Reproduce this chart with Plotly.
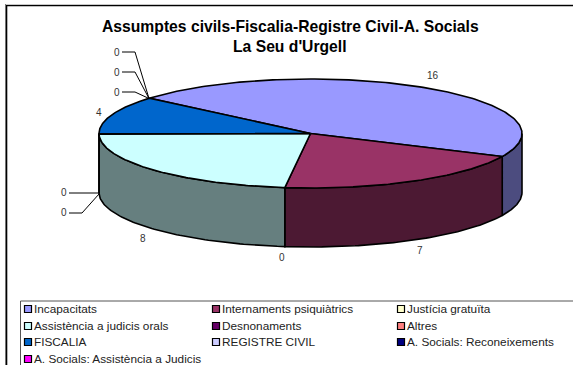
import numpy as np
import plotly.graph_objects as go

# ---- data ----
title_lines = ["Assumptes civils-Fiscalia-Registre Civil-A. Socials", "La Seu d'Urgell"]
categories = ["Incapacitats", "Internaments psiquiàtrics", "Justícia gratuïta",
              "Assistència a judicis orals", "Desnonaments", "Altres",
              "FISCALIA", "REGISTRE CIVIL", "A. Socials: Reconeixements",
              "A. Socials: Assistència a Judicis"]
values = [16, 7, 0, 8, 0, 0, 4, 0, 0, 0]
colors = ["#9999FF", "#993366", "#FFFFCC", "#CCFFFF", "#660066",
          "#FF8080", "#0066CC", "#CCCCFF", "#000080", "#FF00FF"]

# ---- geometry of the tilted pie (pixels of the 573x365 canvas) ----
W, H = 573, 365
CX, CY, RX, RY, DEPTH = 310.5, 133.5, 211.5, 54.5, 59
START_DEG = 220.4   # clockwise on screen, from the 3 o'clock direction

# label anchor and leader layout per category
label_pos = [(433, 75), (420, 250), (282, 257), (143, 238), (64, 192),
             (64, 212), (99, 112), (117, 92), (117, 72), (117, 52)]
leaders = {
    4: [(69, 193), (99, 193)],
    5: [(69, 213), (82, 213), (99, 194)],
    7: [(122, 92), (135, 92), (149, 98.5)],
    8: [(122, 72), (135, 72), (149, 98.5)],
    9: [(122, 52), (135, 52), (149, 98.5)],
}
legend_xy = [(28, 309), (216, 309), (401, 309),
             (28, 326), (216, 326), (401, 326),
             (28, 342), (216, 342), (401, 342),
             (28, 359)]


def shade(hex_color):
    r, g, b = (int(hex_color[i:i + 2], 16) for i in (1, 3, 5))
    return f"rgb({r // 2},{g // 2},{b // 2})"


def ex(t):
    return CX + RX * np.cos(np.radians(t))


def ey(t):
    return CY + RY * np.sin(np.radians(t))


LINE = dict(color="black", width=1.6)
fig = go.Figure()
total = sum(values)

bounds = []
a = START_DEG - 360
for v in values:
    bounds.append((a, a + 360 * v / total))
    a += 360 * v / total

# side walls: visible part of each slice, front half of the ellipse
for (a0, a1), v, c in zip(bounds, values, colors):
    for shift in (0, 360):
        s0, s1 = max(a0 + shift, 0), min(a1 + shift, 180)
        if v == 0 or s1 <= s0:
            continue
        t = np.linspace(s0, s1, 80)
        xs = np.concatenate([ex(t), ex(t[::-1])])
        ys = np.concatenate([ey(t), ey(t[::-1]) + DEPTH])
        fig.add_trace(go.Scatter(x=np.append(xs, xs[0]), y=np.append(ys, ys[0]), mode="lines",
                                 fill="toself", fillcolor=shade(c), line=LINE,
                                 hoverinfo="skip", showlegend=False))

# top faces
for (a0, a1), v, c in zip(bounds, values, colors):
    if v == 0:
        continue
    t = np.linspace(a0, a1, 160)
    xs = np.concatenate([[CX], ex(t), [CX]])
    ys = np.concatenate([[CY], ey(t), [CY]])
    fig.add_trace(go.Scatter(x=xs, y=ys, mode="lines", fill="toself", fillcolor=c,
                             line=LINE, hoverinfo="skip", showlegend=False))

# leader lines
for pts in leaders.values():
    fig.add_trace(go.Scatter(x=[p[0] for p in pts], y=[p[1] for p in pts], mode="lines",
                             line=dict(color="black", width=1),
                             hoverinfo="skip", showlegend=False))

shapes = [
    dict(type="line", xref="x", yref="y", x0=5, x1=W, y0=4.5, y1=4.5, line=dict(color="#c8c8c8", width=1)),
    dict(type="line", xref="x", yref="y", x0=5.5, x1=5.5, y0=4, y1=H, line=dict(color="#808080", width=1)),
    dict(type="line", xref="x", yref="y", x0=6, x1=W, y0=5.6, y1=5.6, line=dict(color="black", width=1.4)),
    dict(type="line", xref="x", yref="y", x0=6.6, x1=6.6, y0=5, y1=H, line=dict(color="black", width=1.4)),
    dict(type="line", xref="x", yref="y", x0=20.5, x1=W, y0=301, y1=301, line=dict(color="#555555", width=1)),
    dict(type="line", xref="x", yref="y", x0=20.5, x1=20.5, y0=301, y1=H, line=dict(color="#555555", width=1)),
]

annotations = []
TXT = "Liberation Sans, Arial, sans-serif"
for i, line_text in enumerate(title_lines):
    annotations.append(dict(x=290, y=26 + 20.5 * i, text=f"<b>{line_text}</b>", showarrow=False,
                            xref="x", yref="y", xanchor="center", yanchor="middle",
                            font=dict(family=TXT, size=15.7, color="black")))
for (x, y), v in zip(label_pos, values):
    annotations.append(dict(x=x, y=y, text=str(v), showarrow=False, xref="x", yref="y",
                            xanchor="center", yanchor="middle",
                            font=dict(family=TXT, size=10, color="#333333")))
for (x, y), name in zip(legend_xy, categories):
    annotations.append(dict(x=x + 4, y=y, text=name, showarrow=False, xref="x", yref="y",
                            xanchor="left", yanchor="middle",
                            font=dict(family=TXT, size=11.8, color="#222222")))

# legend swatches
fig.add_trace(go.Scatter(x=[p[0] for p in legend_xy], y=[p[1] for p in legend_xy], mode="markers",
                         marker=dict(symbol="square", size=7, color=colors,
                                     line=dict(color="black", width=1.2)),
                         hoverinfo="skip", showlegend=False))

fig.update_layout(
    width=W, height=H, margin=dict(l=0, r=0, t=0, b=0),
    paper_bgcolor="white", plot_bgcolor="white", showlegend=False,
    xaxis=dict(range=[0, W], visible=False, fixedrange=True),
    yaxis=dict(range=[H, 0], visible=False, fixedrange=True),
    shapes=shapes, annotations=annotations,
)
fig.write_html("out.html", config=dict(displayModeBar=False),
               default_width=f"{W}px", default_height=f"{H}px",
               post_script="document.body.style.margin='0';document.body.style.overflow='hidden';")
